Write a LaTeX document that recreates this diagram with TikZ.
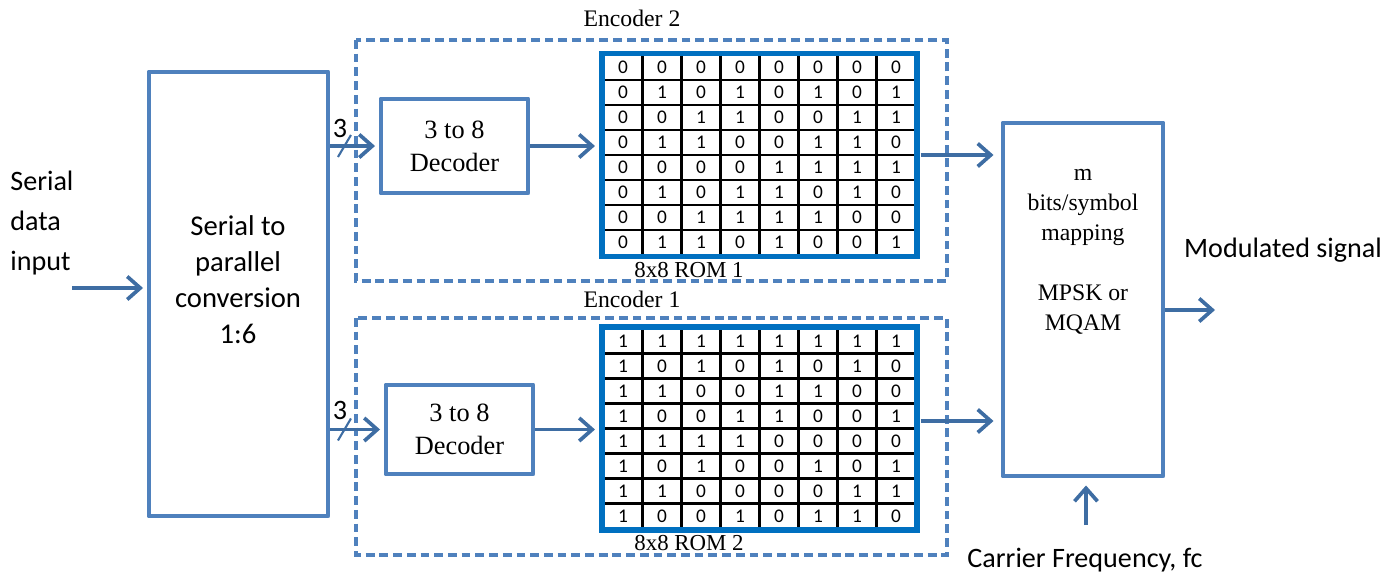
\documentclass[tikz,border=0pt]{standalone}
\usepackage{fontspec}
\setmainfont{Liberation Serif}
\setsansfont{Carlito}
\usepackage{tikz}
\usetikzlibrary{matrix,positioning,arrows.meta}
\definecolor{boxblue}{HTML}{4F81BD}
\definecolor{arrowblue}{HTML}{3E6DA3}
\definecolor{romblue}{HTML}{0070C0}
\tikzstyle{block} = [draw=boxblue, line width=2.8pt, line join=round, rectangle, align=center, inner sep=0pt]
\tikzstyle{encoder} = [draw=boxblue, line width=2pt, dash pattern=on 5pt off 2.8pt]
\tikzstyle{arrow} = [draw=arrowblue, line width=2.1pt, -{Straight Barb[length=2.6mm,width=4.6mm,line width=2.1pt]}]
\tikzstyle{rom} = [matrix of nodes, inner sep=0pt, column sep=-1.3pt, row sep=-1.3pt,
    nodes={draw=black, line width=1.3pt, minimum width=0.78cm, minimum height=0.5cm, inner sep=0pt,
           font=\sffamily\fontsize{11}{13}\selectfont}]
\tikzstyle{romframe} = [draw=romblue, line width=3.2pt]
\tikzstyle{sanstext} = [font=\sffamily\fontsize{16}{22.7}\selectfont, align=center, inner sep=0pt]
\tikzstyle{seriftext} = [font=\fontsize{13.5}{17}\selectfont, align=center, inner sep=0pt]

\begin{document}
\begin{tikzpicture}
\useasboundingbox (0,0) rectangle (27.9,-11.54);

% encoder frames
\draw[encoder] (7.12,-0.8) rectangle (18.94,-5.62);
\draw[encoder] (7.12,-6.36) rectangle (18.94,-11.1);
\node[seriftext] (enc2) at (12.64,-0.36) {Encoder 2};
\node[seriftext] (enc1) at (12.64,-5.98) {Encoder 1};

% main blocks
\node[block, minimum width=3.58cm, minimum height=8.88cm] (sp) at (4.77,-5.88) {};
\node[sanstext, font=\sffamily\fontsize{16.3}{20.5}\selectfont] (sptext) at (4.76,-5.6)
    {Serial to\\parallel\\conversion\\1:6};
\node[block, minimum width=2.94cm, minimum height=1.88cm, font=\fontsize{15}{18.7}\selectfont] (dec2) at (9.09,-2.92) {3 to 8\\Decoder};
\node[block, minimum width=2.94cm, minimum height=1.78cm, font=\fontsize{15}{18.7}\selectfont] (dec1) at (9.19,-8.59) {3 to 8\\Decoder};
\node[block, minimum width=3.2cm, minimum height=7.06cm] (map) at (21.66,-5.99) {};
\node[seriftext] (maptext) at (21.66,-5.04)
    {m\\bits/symbol\\mapping\\[17pt]MPSK or\\MQAM};

% ROM tables
\matrix[rom] (rom1) at (15.19,-3.1) {
0 & 0 & 0 & 0 & 0 & 0 & 0 & 0 \\
0 & 1 & 0 & 1 & 0 & 1 & 0 & 1 \\
0 & 0 & 1 & 1 & 0 & 0 & 1 & 1 \\
0 & 1 & 1 & 0 & 0 & 1 & 1 & 0 \\
0 & 0 & 0 & 0 & 1 & 1 & 1 & 1 \\
0 & 1 & 0 & 1 & 1 & 0 & 1 & 0 \\
0 & 0 & 1 & 1 & 1 & 1 & 0 & 0 \\
0 & 1 & 1 & 0 & 1 & 0 & 0 & 1 \\
};
\draw[romframe] (rom1.north west) rectangle (rom1.south east);
\node[seriftext, font=\fontsize{13}{16}\selectfont] (rom1name) at (13.78,-5.4) {8x8 ROM 1};

\matrix[rom] (rom2) at (15.19,-8.57) {
1 & 1 & 1 & 1 & 1 & 1 & 1 & 1 \\
1 & 0 & 1 & 0 & 1 & 0 & 1 & 0 \\
1 & 1 & 0 & 0 & 1 & 1 & 0 & 0 \\
1 & 0 & 0 & 1 & 1 & 0 & 0 & 1 \\
1 & 1 & 1 & 1 & 0 & 0 & 0 & 0 \\
1 & 0 & 1 & 0 & 0 & 1 & 0 & 1 \\
1 & 1 & 0 & 0 & 0 & 0 & 1 & 1 \\
1 & 0 & 0 & 1 & 0 & 1 & 1 & 0 \\
};
\draw[romframe] (rom2.north west) rectangle (rom2.south east);
\node[seriftext, font=\fontsize{13}{16}\selectfont] (rom2name) at (13.78,-10.86) {8x8 ROM 2};

% outer labels
\node[sanstext, align=left, anchor=west] (input) at (0.2,-4.46) {Serial\\data\\input};
\node[sanstext] (outname) at (25.66,-5.0) {Modulated signal};
\node[sanstext] (fcname) at (21.7,-11.2) {Carrier Frequency, fc};
\coordinate (in) at (1.44,-5.76);
\coordinate (out) at (24.3,-6.2);
\coordinate (fc) at (21.72,-10.5);

% connectors
\draw[arrow] (in) -- ([xshift=-2pt]sp.west |- in);
\draw[arrow] (sp.east |- dec2.west) -- ([xshift=-2pt]dec2.west);
\draw[arrow] (sp.east |- dec1.west) -- ([xshift=-2pt]dec1.west);
\draw[arrow] (dec2.east) -- ([xshift=-4pt]rom1.west |- dec2.east);
\draw[arrow] (dec1.east) -- ([xshift=-4pt]rom2.west |- dec1.east);
\draw[arrow] ([xshift=2pt]rom1.east) -- ([xshift=-4pt]map.west |- rom1.east);
\draw[arrow] ([xshift=2pt]rom2.east |- 0,-8.42) -- ([xshift=-4pt]map.west |- 0,-8.42);
\draw[arrow] (map.east |- out) -- (out);
\draw[arrow] (fc) -- ([yshift=-4pt]fc |- map.south);

% bus width marks
\path (sp.east |- dec2.west) ++(0.28,0) coordinate (bus2);
\path (sp.east |- dec1.west) ++(0.28,0) coordinate (bus1);
\draw[arrowblue, line width=1.2pt] (bus2) ++(-0.13,-0.22) -- ++(0.26,0.44);
\draw[arrowblue, line width=1.2pt] (bus1) ++(-0.13,-0.22) -- ++(0.26,0.44);
\node[sanstext] (bus2w) at (6.8,-2.56) {3};
\node[sanstext] (bus1w) at (6.8,-8.2) {3};
\end{tikzpicture}
\end{document}
